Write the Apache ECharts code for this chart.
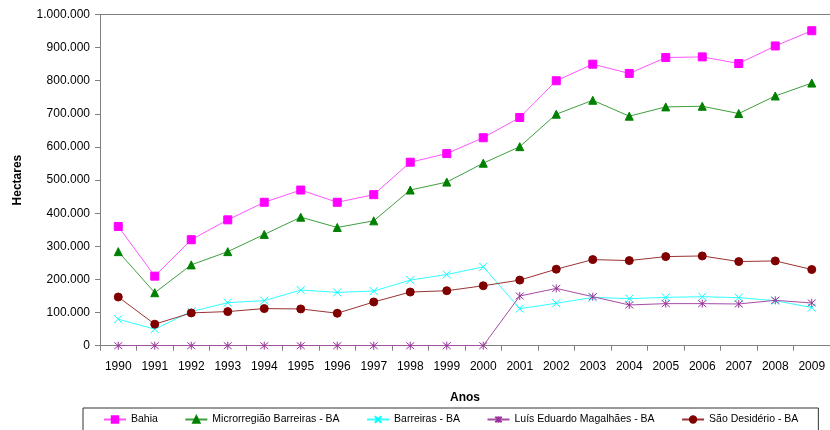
<!DOCTYPE html>
<html>
<head>
<meta charset="utf-8">
<script src="https://cdn.jsdelivr.net/npm/echarts@6/dist/echarts.min.js"></script>
<style>
  html, body { margin: 0; padding: 0; background: #fff; }
  #chart { width: 830px; height: 430px; }
</style>
</head>
<body>
<div id="chart"></div>
<script>
// Área plantada (hectares) por ano
const anos = ['1990','1991','1992','1993','1994','1995','1996','1997','1998','1999',
              '2000','2001','2002','2003','2004','2005','2006','2007','2008','2009'];

const bahia = [360000, 210000, 320000, 380000, 433000, 470000, 433000, 456000, 554000, 580000,
               628000, 689000, 800000, 850000, 822000, 870000, 872000, 852000, 905000, 951000];

const microrregiao = [284000, 160000, 244000, 284000, 336000, 388000, 357000, 377000, 470000, 494000,
                      551000, 601000, 699000, 741000, 693000, 721000, 723000, 701000, 754000, 793000];

const barreiras = [80000, 50000, 103000, 130000, 136000, 168000, 161000, 165000, 198000, 215000,
                   238000, 112000, 128000, 146000, 142000, 146000, 148000, 145000, 136000, 115000];

const luisEduardo = [0, 0, 0, 0, 0, 0, 0, 0, 0, 0,
                     0, 150000, 173000, 148000, 123000, 127000, 127000, 126000, 137000, 129000];

const saoDesiderio = [147000, 65000, 99000, 103000, 112000, 111000, 98000, 132000, 162000, 166000,
                      181000, 198000, 231000, 260000, 257000, 269000, 271000, 254000, 256000, 230000];

const FONT = 'Liberation Sans, Arial, sans-serif';

function milhar(v) {
  return String(v).replace(/\B(?=(\d{3})+(?!\d))/g, '.');
}

const SYM_X = 'path://M0,0L10,10M10,0L0,10';
const SYM_STAR = 'path://M0,0L10,10M10,0L0,10M5,-1L5,11';

function serie(name, data, color, symbol, size, lineColor) {
  return {
    name: name,
    type: 'line',
    data: data,
    symbol: symbol,
    symbolSize: size,
    showAllSymbol: true,
    lineStyle: { color: lineColor || color, width: 1 },
    itemStyle: { color: color, borderColor: color, borderWidth: 1 },
    emphasis: { disabled: true }
  };
}

const chart = echarts.init(document.getElementById('chart'), null, { renderer: 'canvas' });

chart.setOption({
  animation: false,
  backgroundColor: '#ffffff',
  textStyle: { fontFamily: FONT },
  grid: { left: 100, right: 0, top: 14.5, bottom: 84.3, containLabel: false },
  legend: {
    left: 83,
    top: 408,
    width: 740,
    padding: [6, 20, 10, 20],
    borderColor: '#333333',
    borderWidth: 1,
    itemGap: 26.5,
    itemWidth: 22,
    itemHeight: 8,
    textStyle: { fontFamily: FONT, fontSize: 10.5, color: '#000' },
    data: ['Bahia', 'Microrregião Barreiras - BA', 'Barreiras - BA',
           'Luís Eduardo Magalhães - BA', 'São Desidério - BA']
  },
  xAxis: [{
    type: 'category',
    data: anos,
    boundaryGap: true,
    name: 'Anos',
    nameLocation: 'middle',
    nameGap: 46,
    nameTextStyle: { fontFamily: FONT, fontSize: 12, fontWeight: 'bold', color: '#000' },
    axisLine: { lineStyle: { color: '#808080', width: 1 } },
    axisTick: { show: true, alignWithLabel: false, length: 5, lineStyle: { color: '#808080' } },
    axisLabel: { fontFamily: FONT, fontSize: 12, color: '#000', margin: 15, interval: 0 },
    splitLine: { show: false }
  }, {
    type: 'category',
    data: anos,
    position: 'top',
    axisLine: { show: true, lineStyle: { color: '#808080', width: 1 } },
    axisTick: { show: false },
    axisLabel: { show: false },
    splitLine: { show: false }
  }],
  yAxis: {
    type: 'value',
    min: 0,
    max: 1000000,
    interval: 100000,
    name: 'Hectares',
    nameLocation: 'middle',
    nameRotate: 90,
    nameGap: 76,
    nameTextStyle: { fontFamily: FONT, fontSize: 12, fontWeight: 'bold', color: '#000' },
    axisLine: { show: true, lineStyle: { color: '#808080', width: 1 } },
    axisTick: { show: true, length: 5, lineStyle: { color: '#808080' } },
    axisLabel: { fontFamily: FONT, fontSize: 12, color: '#000', margin: 10, formatter: milhar },
    splitLine: { show: false }
  },
  series: [
    serie('Bahia', bahia, '#ff00ff', 'rect', 8, '#ff55ff'),
    serie('Microrregião Barreiras - BA', microrregiao, '#008000', 'triangle', 8, '#3f9f3f'),
    serie('Barreiras - BA', barreiras, '#00ffff', SYM_X, 8, '#33ffff'),
    serie('Luís Eduardo Magalhães - BA', luisEduardo, '#993399', SYM_STAR, 8, '#a64ca6'),
    serie('São Desidério - BA', saoDesiderio, '#800000', 'circle', 8, '#993333')
  ]
});
</script>
</body>
</html>
